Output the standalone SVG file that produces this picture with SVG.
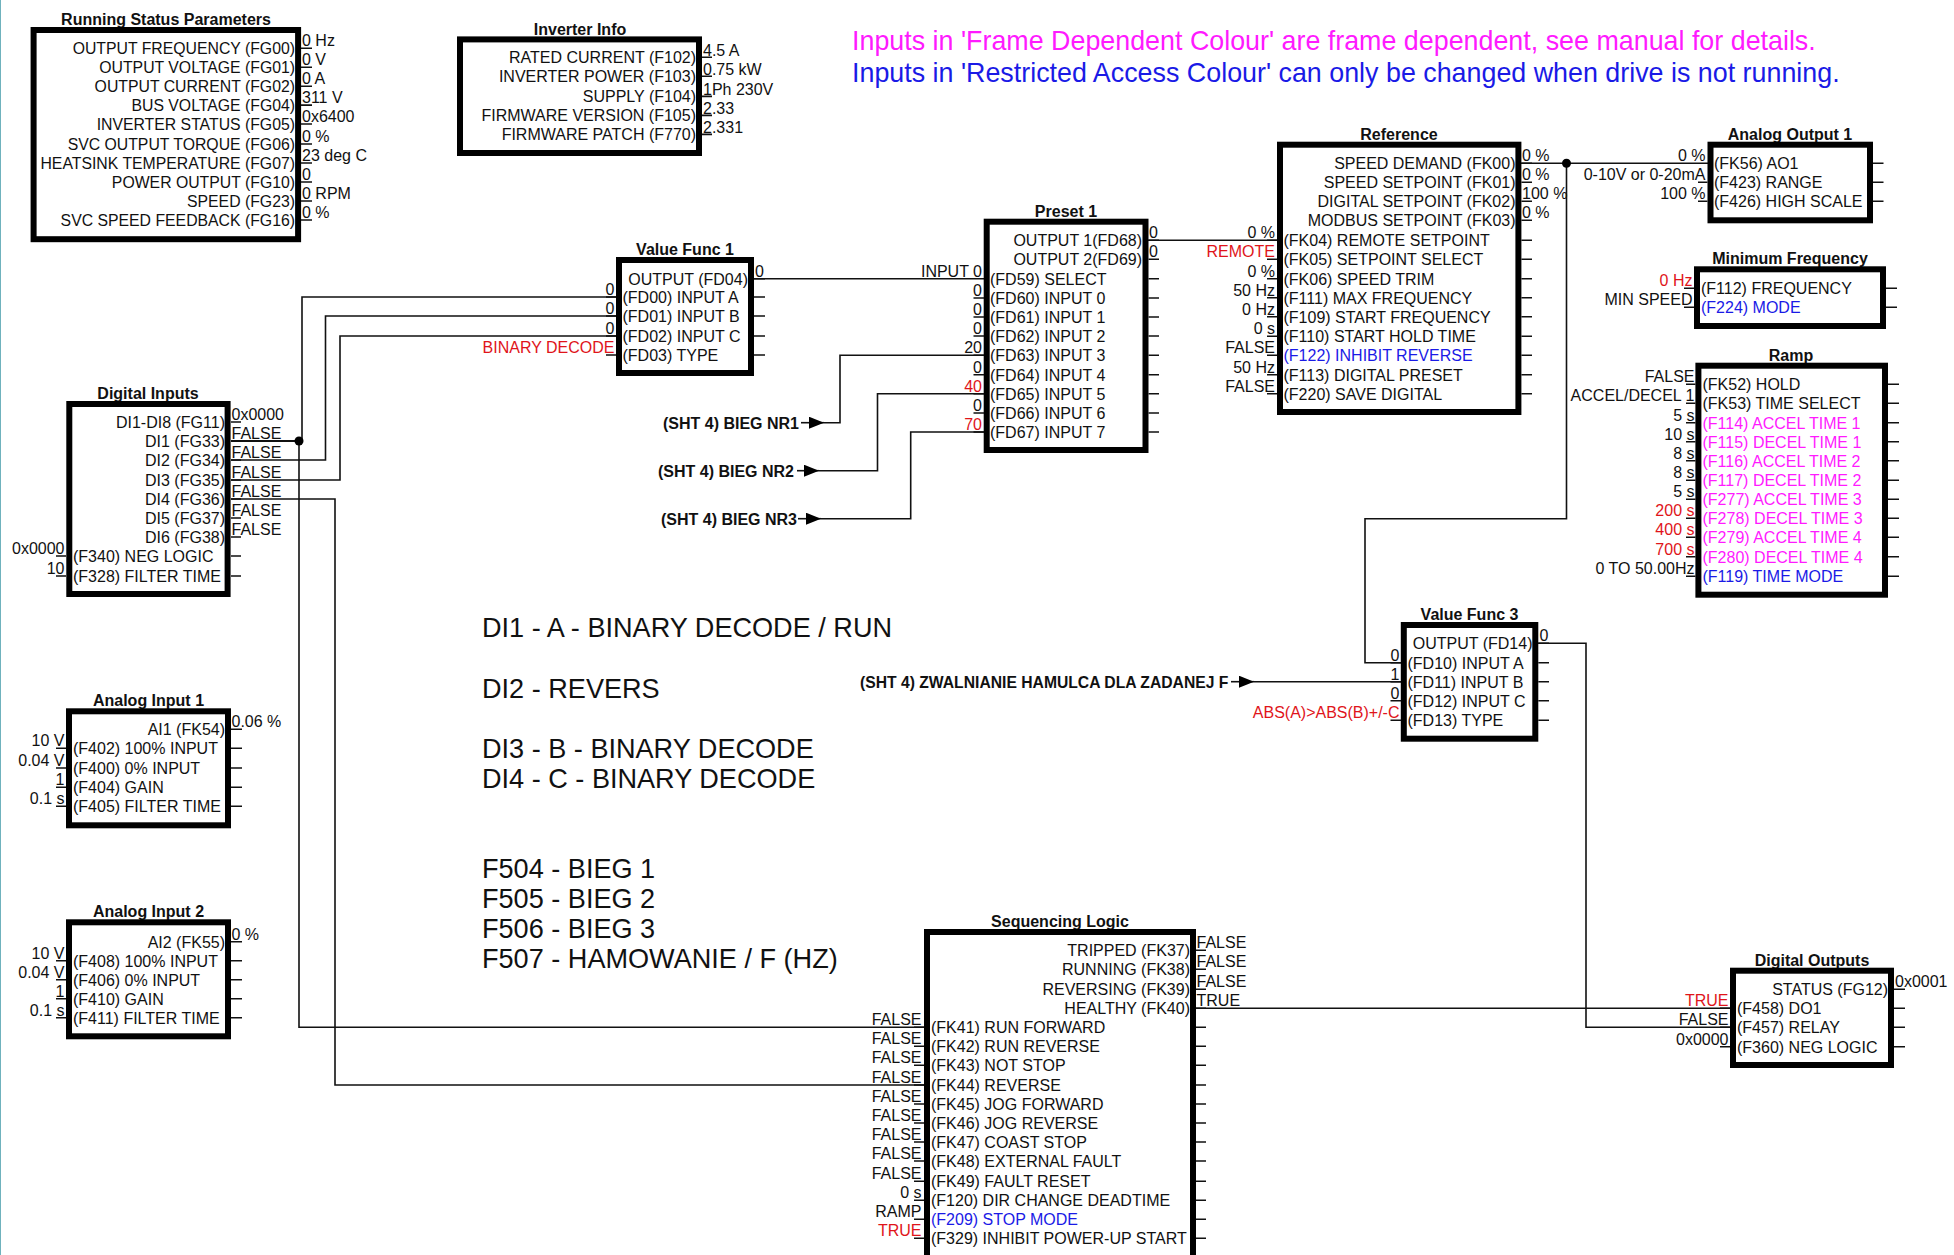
<svg xmlns="http://www.w3.org/2000/svg" width="1954" height="1255" viewBox="0 0 1954 1255">
<defs>
<style>
text{font-family:"Liberation Sans",Arial,sans-serif;font-size:16px;fill:#111}
.e{text-anchor:end}
.c{text-anchor:middle}
.ti{font-weight:bold;font-size:16px;text-anchor:middle}
.b{font-weight:bold}
.red{fill:#e0141a}
.blue{fill:#1a1ae6}
.mag{fill:#ff1aff}
.big{font-size:27.1px}
.note{font-size:26.85px}
.rs{font-size:15.8px}
.box{fill:#fff;stroke:#000;stroke-width:6}
.tk{fill:none;stroke:#111;stroke-width:1.6}
.cn{fill:none;stroke:#111;stroke-width:1.6}
</style>
<marker id="arr" markerWidth="15" markerHeight="12" refX="15" refY="6" orient="auto" markerUnits="userSpaceOnUse"><path d="M0 0L15 6L0 12Z" fill="#000"/></marker>
</defs>
<rect width="1954" height="1255" fill="#fff"/>
<rect x="0" y="0" width="1" height="1255" fill="#6fb2bd"/>

<g id="notes">
<text class="note mag" x="852" y="50">Inputs in 'Frame Dependent Colour' are frame dependent, see manual for details.</text>
<text class="note blue" x="852" y="82">Inputs in 'Restricted Access Colour' can only be changed when drive is not running.</text>
<text class="big" x="482" y="637">DI1 - A - BINARY DECODE / RUN</text>
<text class="big" x="482" y="698">DI2 - REVERS</text>
<text class="big" x="482" y="758">DI3 - B - BINARY DECODE</text>
<text class="big" x="482" y="788">DI4 - C - BINARY DECODE</text>
<text class="big" x="482" y="878">F504 - BIEG 1</text>
<text class="big" x="482" y="908">F505 - BIEG 2</text>
<text class="big" x="482" y="938">F506 - BIEG 3</text>
<text class="big" x="482" y="968">F507 - HAMOWANIE / F (HZ)</text>
</g>

<g id="connectors">
<path class="cn" style="stroke-width:2" d="M231 441H299"/>
<path class="cn" d="M299 441H302V297H616"/>
<path class="cn" d="M299 441V1027.3H924"/>
<path class="cn" d="M231 460H325.5V316H616"/>
<path class="cn" d="M231 480H340V336H616"/>
<path class="cn" d="M231 499H335V1085H924"/>
<path class="cn" d="M754 278.7H984"/>
<path class="cn" d="M1148 240.3H1277"/>
<path class="cn" d="M824 422.7H840V355.3H984"/>
<path class="cn" d="M819 470.7H877.5V393.7H984"/>
<path class="cn" d="M821 518.7H910.7V432H984"/>
<path class="cn" marker-end="url(#arr)" d="M801 422.7H824"/>
<path class="cn" marker-end="url(#arr)" d="M797 470.7H819"/>
<path class="cn" marker-end="url(#arr)" d="M798 518.7H821"/>
<path class="cn" marker-end="url(#arr)" d="M1231 681.7H1254"/>
<path class="cn" d="M1254 681.7H1401"/>
<path class="cn" d="M1521 163.3H1708"/>
<path class="cn" d="M1566.5 163.3V518.7H1365V662.7H1401"/>
<path class="cn" d="M1538 643.3H1586V1027.3H1730"/>
<path class="cn" d="M1196 1008.3H1730"/>
<circle cx="299" cy="441" r="4.5" fill="#000"/>
<circle cx="1566.5" cy="163.3" r="4.5" fill="#000"/>
<text class="b" x="663" y="429">(SHT 4) BIEG NR1</text>
<text class="b" x="658" y="477">(SHT 4) BIEG NR2</text>
<text class="b" x="661" y="525">(SHT 4) BIEG NR3</text>
<text class="b" style="font-size:15.7px" x="860" y="688">(SHT 4) ZWALNIANIE HAMULCA DLA ZADANEJ F</text>
</g>

<g id="running-status">
<text class="ti" x="166" y="25">Running Status Parameters</text>
<rect class="box" x="33.6" y="30" width="264.5" height="209.2"/>
<path class="tk" d="M301 48.2h11M301 67.2h11M301 86.2h11M301 105.1h11M301 124h11M301 144h11M301 163h11M301 182h11M301 201h11M301 220h11"/>
<text class="e rs" x="295" y="54.2">OUTPUT FREQUENCY (FG00)</text>
<text class="e rs" x="295" y="73.2">OUTPUT VOLTAGE (FG01)</text>
<text class="e rs" x="295" y="92.2">OUTPUT CURRENT (FG02)</text>
<text class="e rs" x="295" y="111.1">BUS VOLTAGE (FG04)</text>
<text class="e rs" x="295" y="130">INVERTER STATUS (FG05)</text>
<text class="e rs" x="295" y="150">SVC OUTPUT TORQUE (FG06)</text>
<text class="e rs" x="295" y="169">HEATSINK TEMPERATURE (FG07)</text>
<text class="e rs" x="295" y="188">POWER OUTPUT (FG10)</text>
<text class="e rs" x="295" y="207">SPEED (FG23)</text>
<text class="e rs" x="295" y="226">SVC SPEED FEEDBACK (FG16)</text>
<text x="302" y="46.2">0 Hz</text>
<text x="302" y="65.2">0 V</text>
<text x="302" y="84.2">0 A</text>
<text x="302" y="103.1">311 V</text>
<text x="302" y="122">0x6400</text>
<text x="302" y="142">0 %</text>
<text x="302" y="161">23 deg C</text>
<text x="302" y="180">0</text>
<text x="302" y="199">0 RPM</text>
<text x="302" y="218">0 %</text>
</g>

<g id="inverter-info">
<text class="ti" x="580" y="34.5">Inverter Info</text>
<rect class="box" x="460" y="39.4" width="239" height="113.6"/>
<path class="tk" d="M702 57.3h10M702 76.3h10M702 96.4h10M702 115.4h10M702 134.4h10"/>
<text class="e" x="696" y="63.3">RATED CURRENT (F102)</text>
<text class="e" x="696" y="82.3">INVERTER POWER (F103)</text>
<text class="e" x="696" y="102.4">SUPPLY (F104)</text>
<text class="e" x="696" y="121.4">FIRMWARE VERSION (F105)</text>
<text class="e" x="696" y="140.4">FIRMWARE PATCH (F770)</text>
<text x="703" y="55.8">4.5 A</text>
<text x="703" y="74.8">0.75 kW</text>
<text x="703" y="94.9">1Ph 230V</text>
<text x="703" y="113.9">2.33</text>
<text x="703" y="132.9">2.331</text>
</g>

<g id="value-func-1">
<text class="ti" x="685" y="255">Value Func 1</text>
<rect class="box" x="619" y="260" width="132" height="113"/>
<path class="tk" d="M754 278.7h11M754 297h11M754 316h11M754 336h11M754 355h11M606 297h10M606 316h10M606 336h10M606 355h10"/>
<text class="e" x="748" y="284.7">OUTPUT (FD04)</text>
<text x="622.5" y="303">(FD00) INPUT A</text>
<text x="622.5" y="322">(FD01) INPUT B</text>
<text x="622.5" y="342">(FD02) INPUT C</text>
<text x="622.5" y="361">(FD03) TYPE</text>
<text x="755" y="277.2">0</text>
<text class="e" x="614.5" y="295">0</text>
<text class="e" x="614.5" y="314">0</text>
<text class="e" x="614.5" y="334">0</text>
<text class="e red" x="614.5" y="353">BINARY DECODE</text>
</g>

<g id="digital-inputs">
<text class="ti" x="148" y="399">Digital Inputs</text>
<rect class="box" x="69.3" y="404" width="158.3" height="190"/>
<path class="tk" d="M231 422h10M231 441h10M231 460h10M231 480h10M231 499h10M231 518h10M231 537h10M231 556h10M231 576h10M56 556h10M56 576h10"/>
<text class="e" x="225" y="428">DI1-DI8 (FG11)</text>
<text class="e" x="225" y="447">DI1 (FG33)</text>
<text class="e" x="225" y="466">DI2 (FG34)</text>
<text class="e" x="225" y="486">DI3 (FG35)</text>
<text class="e" x="225" y="505">DI4 (FG36)</text>
<text class="e" x="225" y="524">DI5 (FG37)</text>
<text class="e" x="225" y="543">DI6 (FG38)</text>
<text x="73" y="562">(F340) NEG LOGIC</text>
<text x="73" y="582">(F328) FILTER TIME</text>
<text x="231.5" y="420">0x0000</text>
<text x="231.5" y="439">FALSE</text>
<text x="231.5" y="458">FALSE</text>
<text x="231.5" y="478">FALSE</text>
<text x="231.5" y="497">FALSE</text>
<text x="231.5" y="516">FALSE</text>
<text x="231.5" y="535">FALSE</text>
<text class="e" x="64.5" y="554">0x0000</text>
<text class="e" x="64.5" y="574">10</text>
</g>

<g id="analog-input-1">
<text class="ti" x="148.5" y="706.3">Analog Input 1</text>
<rect class="box" x="69" y="711.3" width="159" height="114"/>
<path class="tk" d="M231 729.3h11M231 748.3h11M231 768h11M231 787.3h11M231 806.3h11M56 748.3h10M56 768h10M56 787.3h10M56 806.3h10"/>
<text class="e" x="225" y="735.3">AI1 (FK54)</text>
<text x="73" y="754.3">(F402) 100% INPUT</text>
<text x="73" y="774">(F400) 0% INPUT</text>
<text x="73" y="793.3">(F404) GAIN</text>
<text x="73" y="812.3">(F405) FILTER TIME</text>
<text x="231.5" y="727.3">0.06 %</text>
<text class="e" x="64.5" y="746.3">10 V</text>
<text class="e" x="64.5" y="766">0.04 V</text>
<text class="e" x="64.5" y="785.3">1</text>
<text class="e" x="64.5" y="804.3">0.1 s</text>
</g>

<g id="analog-input-2">
<text class="ti" x="148.5" y="917.3">Analog Input 2</text>
<rect class="box" x="69" y="922.3" width="159" height="114"/>
<path class="tk" d="M231 941.7h11M231 960.7h11M231 979.7h11M231 998.7h11M231 1017.7h11M56 960.7h10M56 979.7h10M56 998.7h10M56 1017.7h10"/>
<text class="e" x="225" y="947.7">AI2 (FK55)</text>
<text x="73" y="966.7">(F408) 100% INPUT</text>
<text x="73" y="985.7">(F406) 0% INPUT</text>
<text x="73" y="1004.7">(F410) GAIN</text>
<text x="73" y="1023.7">(F411) FILTER TIME</text>
<text x="231.5" y="939.7">0 %</text>
<text class="e" x="64.5" y="958.7">10 V</text>
<text class="e" x="64.5" y="977.7">0.04 V</text>
<text class="e" x="64.5" y="996.7">1</text>
<text class="e" x="64.5" y="1015.7">0.1 s</text>
</g>

<g id="preset-1">
<text class="ti" x="1066" y="216.7">Preset 1</text>
<rect class="box" x="986.7" y="221.7" width="158.8" height="228.3"/>
<path class="tk" d="M1148.5 240.3h10.5M1148.5 259.3h10.5M1148.5 278.7h10.5M1148.5 298h10.5M1148.5 317h10.5M1148.5 336h10.5M1148.5 355.3h10.5M1148.5 374.7h10.5M1148.5 393.7h10.5M1148.5 413h10.5M1148.5 432h10.5M973.5 298h10.5M973.5 317h10.5M973.5 336h10.5M973.5 355.3h10.5M973.5 374.7h10.5M973.5 393.7h10.5M973.5 413h10.5M973.5 432h10.5"/>
<text class="e" x="1142" y="246.3">OUTPUT 1(FD68)</text>
<text class="e" x="1142" y="265.3">OUTPUT 2(FD69)</text>
<text x="990" y="284.7">(FD59) SELECT</text>
<text x="990" y="304">(FD60) INPUT 0</text>
<text x="990" y="323">(FD61) INPUT 1</text>
<text x="990" y="342">(FD62) INPUT 2</text>
<text x="990" y="361.3">(FD63) INPUT 3</text>
<text x="990" y="380.7">(FD64) INPUT 4</text>
<text x="990" y="399.7">(FD65) INPUT 5</text>
<text x="990" y="419">(FD66) INPUT 6</text>
<text x="990" y="438">(FD67) INPUT 7</text>
<text x="1149" y="238.3">0</text>
<text x="1149" y="257.3">0</text>
<text class="e" x="982" y="276.7">INPUT 0</text>
<text class="e" x="982" y="296">0</text>
<text class="e" x="982" y="315">0</text>
<text class="e" x="982" y="334">0</text>
<text class="e" x="982" y="353.3">20</text>
<text class="e" x="982" y="372.7">0</text>
<text class="e red" x="982" y="391.7">40</text>
<text class="e" x="982" y="411">0</text>
<text class="e red" x="982" y="430">70</text>
</g>

<g id="reference">
<text class="ti" x="1399" y="139.7">Reference</text>
<rect class="box" x="1280" y="144.7" width="238.4" height="267.3"/>
<path class="tk" d="M1521.4 163.3h10.6M1521.4 182.3h10.6M1521.4 201.3h10.6M1521.4 220.3h10.6M1521.4 240.3h10.6M1521.4 259.3h10.6M1521.4 278.7h10.6M1521.4 297.7h10.6M1521.4 316.7h10.6M1521.4 336.3h10.6M1521.4 355.3h10.6M1521.4 374.7h10.6M1521.4 393.7h10.6M1267 240.3h10M1267 259.3h10M1267 278.7h10M1267 297.7h10M1267 316.7h10M1267 336.3h10M1267 355.3h10M1267 374.7h10M1267 393.7h10"/>
<text class="e" x="1515.5" y="169.3">SPEED DEMAND (FK00)</text>
<text class="e" x="1515.5" y="188.3">SPEED SETPOINT (FK01)</text>
<text class="e" x="1515.5" y="207.3">DIGITAL SETPOINT (FK02)</text>
<text class="e" x="1515.5" y="226.3">MODBUS SETPOINT (FK03)</text>
<text x="1283.5" y="246.3">(FK04) REMOTE SETPOINT</text>
<text x="1283.5" y="265.3">(FK05) SETPOINT SELECT</text>
<text x="1283.5" y="284.7">(FK06) SPEED TRIM</text>
<text x="1283.5" y="303.7">(F111) MAX FREQUENCY</text>
<text x="1283.5" y="322.7">(F109) START FREQUENCY</text>
<text x="1283.5" y="342.3">(F110) START HOLD TIME</text>
<text class="blue" x="1283.5" y="361.3">(F122) INHIBIT REVERSE</text>
<text x="1283.5" y="380.7">(F113) DIGITAL PRESET</text>
<text x="1283.5" y="399.7">(F220) SAVE DIGITAL</text>
<text x="1522" y="161.3">0 %</text>
<text x="1522" y="180.3">0 %</text>
<text x="1522" y="199.3">100 %</text>
<text x="1522" y="218.3">0 %</text>
<text class="e" x="1275" y="238.3">0 %</text>
<text class="e red" x="1275" y="257.3">REMOTE</text>
<text class="e" x="1275" y="276.7">0 %</text>
<text class="e" x="1275" y="295.7">50 Hz</text>
<text class="e" x="1275" y="314.7">0 Hz</text>
<text class="e" x="1275" y="334.3">0 s</text>
<text class="e" x="1275" y="353.3">FALSE</text>
<text class="e" x="1275" y="372.7">50 Hz</text>
<text class="e" x="1275" y="391.7">FALSE</text>
</g>

<g id="analog-output-1">
<text class="ti" x="1790" y="139.7">Analog Output 1</text>
<rect class="box" x="1710.5" y="144.7" width="159.5" height="75.6"/>
<path class="tk" d="M1873 163.3h10.5M1873 182.3h10.5M1873 201.3h10.5M1698 182.3h9.5M1698 201.3h9.5"/>
<text x="1714" y="169.3">(FK56) AO1</text>
<text x="1714" y="188.3">(F423) RANGE</text>
<text x="1714" y="207.3">(F426) HIGH SCALE</text>
<text class="e" x="1705.5" y="161.3">0 %</text>
<text class="e" x="1705.5" y="180.3">0-10V or 0-20mA</text>
<text class="e" x="1705.5" y="199.3">100 %</text>
</g>

<g id="minimum-frequency">
<text class="ti" x="1790" y="264.3">Minimum Frequency</text>
<rect class="box" x="1697" y="269.3" width="186" height="56.7"/>
<path class="tk" d="M1886 288.3h11M1886 307.3h11M1684 288.3h10M1684 307.3h10"/>
<text x="1701" y="294.3">(F112) FREQUENCY</text>
<text class="blue" x="1701" y="313.3">(F224) MODE</text>
<text class="e red" x="1692.5" y="286.3">0 Hz</text>
<text class="e" x="1692.5" y="305.3">MIN SPEED</text>
</g>

<g id="ramp">
<text class="ti" x="1791" y="360.7">Ramp</text>
<rect class="box" x="1698.4" y="365.7" width="186.6" height="229"/>
<path class="tk" d="M1888 384.3h11M1888 403.3h11M1888 422.7h11M1888 441.7h11M1888 460.7h11M1888 480.3h11M1888 499.3h11M1888 518.3h11M1888 537.3h11M1888 556.7h11M1888 576.3h11M1686 384.3h9.5M1686 403.3h9.5M1686 422.7h9.5M1686 441.7h9.5M1686 460.7h9.5M1686 480.3h9.5M1686 499.3h9.5M1686 518.3h9.5M1686 537.3h9.5M1686 556.7h9.5M1686 576.3h9.5"/>
<text x="1702.5" y="390.3">(FK52) HOLD</text>
<text x="1702.5" y="409.3">(FK53) TIME SELECT</text>
<text class="mag" x="1702.5" y="428.7">(F114) ACCEL TIME 1</text>
<text class="mag" x="1702.5" y="447.7">(F115) DECEL TIME 1</text>
<text class="mag" x="1702.5" y="466.7">(F116) ACCEL TIME 2</text>
<text class="mag" x="1702.5" y="486.3">(F117) DECEL TIME 2</text>
<text class="mag" x="1702.5" y="505.3">(F277) ACCEL TIME 3</text>
<text class="mag" x="1702.5" y="524.3">(F278) DECEL TIME 3</text>
<text class="mag" x="1702.5" y="543.3">(F279) ACCEL TIME 4</text>
<text class="mag" x="1702.5" y="562.7">(F280) DECEL TIME 4</text>
<text class="blue" x="1702.5" y="582.3">(F119) TIME MODE</text>
<text class="e" x="1694.5" y="382.3">FALSE</text>
<text class="e" x="1694.5" y="401.3">ACCEL/DECEL 1</text>
<text class="e" x="1694.5" y="420.7">5 s</text>
<text class="e" x="1694.5" y="439.7">10 s</text>
<text class="e" x="1694.5" y="458.7">8 s</text>
<text class="e" x="1694.5" y="478.3">8 s</text>
<text class="e" x="1694.5" y="497.3">5 s</text>
<text class="e red" x="1694.5" y="516.3">200 s</text>
<text class="e red" x="1694.5" y="535.3">400 s</text>
<text class="e red" x="1694.5" y="554.7">700 s</text>
<text class="e" x="1694.5" y="574.3">0 TO 50.00Hz</text>
</g>

<g id="value-func-3">
<text class="ti" x="1469.5" y="620">Value Func 3</text>
<rect class="box" x="1403.8" y="625" width="131.5" height="113.7"/>
<path class="tk" d="M1538.3 643.3h10.7M1538.3 662.7h10.7M1538.3 681.7h10.7M1538.3 700.7h10.7M1538.3 720.3h10.7M1390.5 662.7h10.5M1390.5 681.7h10.5M1390.5 700.7h10.5M1390.5 720.3h10.5"/>
<text class="e" x="1532.5" y="649.3">OUTPUT (FD14)</text>
<text x="1407.5" y="668.7">(FD10) INPUT A</text>
<text x="1407.5" y="687.7">(FD11) INPUT B</text>
<text x="1407.5" y="706.7">(FD12) INPUT C</text>
<text x="1407.5" y="726.3">(FD13) TYPE</text>
<text x="1539.5" y="641.3">0</text>
<text class="e" x="1399.5" y="660.7">0</text>
<text class="e" x="1399.5" y="679.7">1</text>
<text class="e" x="1399.5" y="698.7">0</text>
<text class="e red" x="1399.5" y="718.3">ABS(A)&gt;ABS(B)+/-C</text>
</g>

<g id="digital-outputs">
<text class="ti" x="1812" y="966">Digital Outputs</text>
<rect class="box" x="1733" y="970.7" width="158" height="94.3"/>
<path class="tk" d="M1894 989.3h11M1894 1008.3h11M1894 1027.3h11M1894 1046.7h11M1720 1008.3h10M1720 1027.3h10M1720 1046.7h10"/>
<text class="e" x="1888" y="995.3">STATUS (FG12)</text>
<text x="1737" y="1014.3">(F458) DO1</text>
<text x="1737" y="1033.3">(F457) RELAY</text>
<text x="1737" y="1052.7">(F360) NEG LOGIC</text>
<text x="1895" y="987.3">0x0001</text>
<text class="e red" x="1728.5" y="1006.3">TRUE</text>
<text class="e" x="1728.5" y="1025.3">FALSE</text>
<text class="e" x="1728.5" y="1044.7">0x0000</text>
</g>

<g id="sequencing-logic">
<text class="ti" x="1060" y="927">Sequencing Logic</text>
<rect class="box" x="927" y="932" width="266" height="326"/>
<path class="tk" d="M1196 950.3h10M1196 969.3h10M1196 989.3h10M1196 1008.3h10M1196 1027.3h10M1196 1046.3h10M1196 1065.3h10M1196 1085h10M1196 1104h10M1196 1123h10M1196 1142h10M1196 1161h10M1196 1181.3h10M1196 1200.3h10M1196 1219.3h10M1196 1238.3h10M914 1027.3h10M914 1046.3h10M914 1065.3h10M914 1085h10M914 1104h10M914 1123h10M914 1142h10M914 1161h10M914 1181.3h10M914 1200.3h10M914 1219.3h10M914 1238.3h10"/>
<text class="e" x="1190" y="956.3">TRIPPED (FK37)</text>
<text class="e" x="1190" y="975.3">RUNNING (FK38)</text>
<text class="e" x="1190" y="995.3">REVERSING (FK39)</text>
<text class="e" x="1190" y="1014.3">HEALTHY (FK40)</text>
<text x="931" y="1033.3">(FK41) RUN FORWARD</text>
<text x="931" y="1052.3">(FK42) RUN REVERSE</text>
<text x="931" y="1071.3">(FK43) NOT STOP</text>
<text x="931" y="1091">(FK44) REVERSE</text>
<text x="931" y="1110">(FK45) JOG FORWARD</text>
<text x="931" y="1129">(FK46) JOG REVERSE</text>
<text x="931" y="1148">(FK47) COAST STOP</text>
<text x="931" y="1167">(FK48) EXTERNAL FAULT</text>
<text x="931" y="1187.3">(FK49) FAULT RESET</text>
<text x="931" y="1206.3">(F120) DIR CHANGE DEADTIME</text>
<text class="blue" x="931" y="1225.3">(F209) STOP MODE</text>
<text x="931" y="1244.3">(F329) INHIBIT POWER-UP START</text>
<text x="1196.5" y="948.3">FALSE</text>
<text x="1196.5" y="967.3">FALSE</text>
<text x="1196.5" y="987.3">FALSE</text>
<text x="1196.5" y="1006.3">TRUE</text>
<text class="e" x="921.5" y="1025.3">FALSE</text>
<text class="e" x="921.5" y="1044.3">FALSE</text>
<text class="e" x="921.5" y="1063.3">FALSE</text>
<text class="e" x="921.5" y="1083">FALSE</text>
<text class="e" x="921.5" y="1102">FALSE</text>
<text class="e" x="921.5" y="1121">FALSE</text>
<text class="e" x="921.5" y="1140">FALSE</text>
<text class="e" x="921.5" y="1159">FALSE</text>
<text class="e" x="921.5" y="1179.3">FALSE</text>
<text class="e" x="921.5" y="1198.3">0 s</text>
<text class="e" x="921.5" y="1217.3">RAMP</text>
<text class="e red" x="921.5" y="1236.3">TRUE</text>
</g>
</svg>
